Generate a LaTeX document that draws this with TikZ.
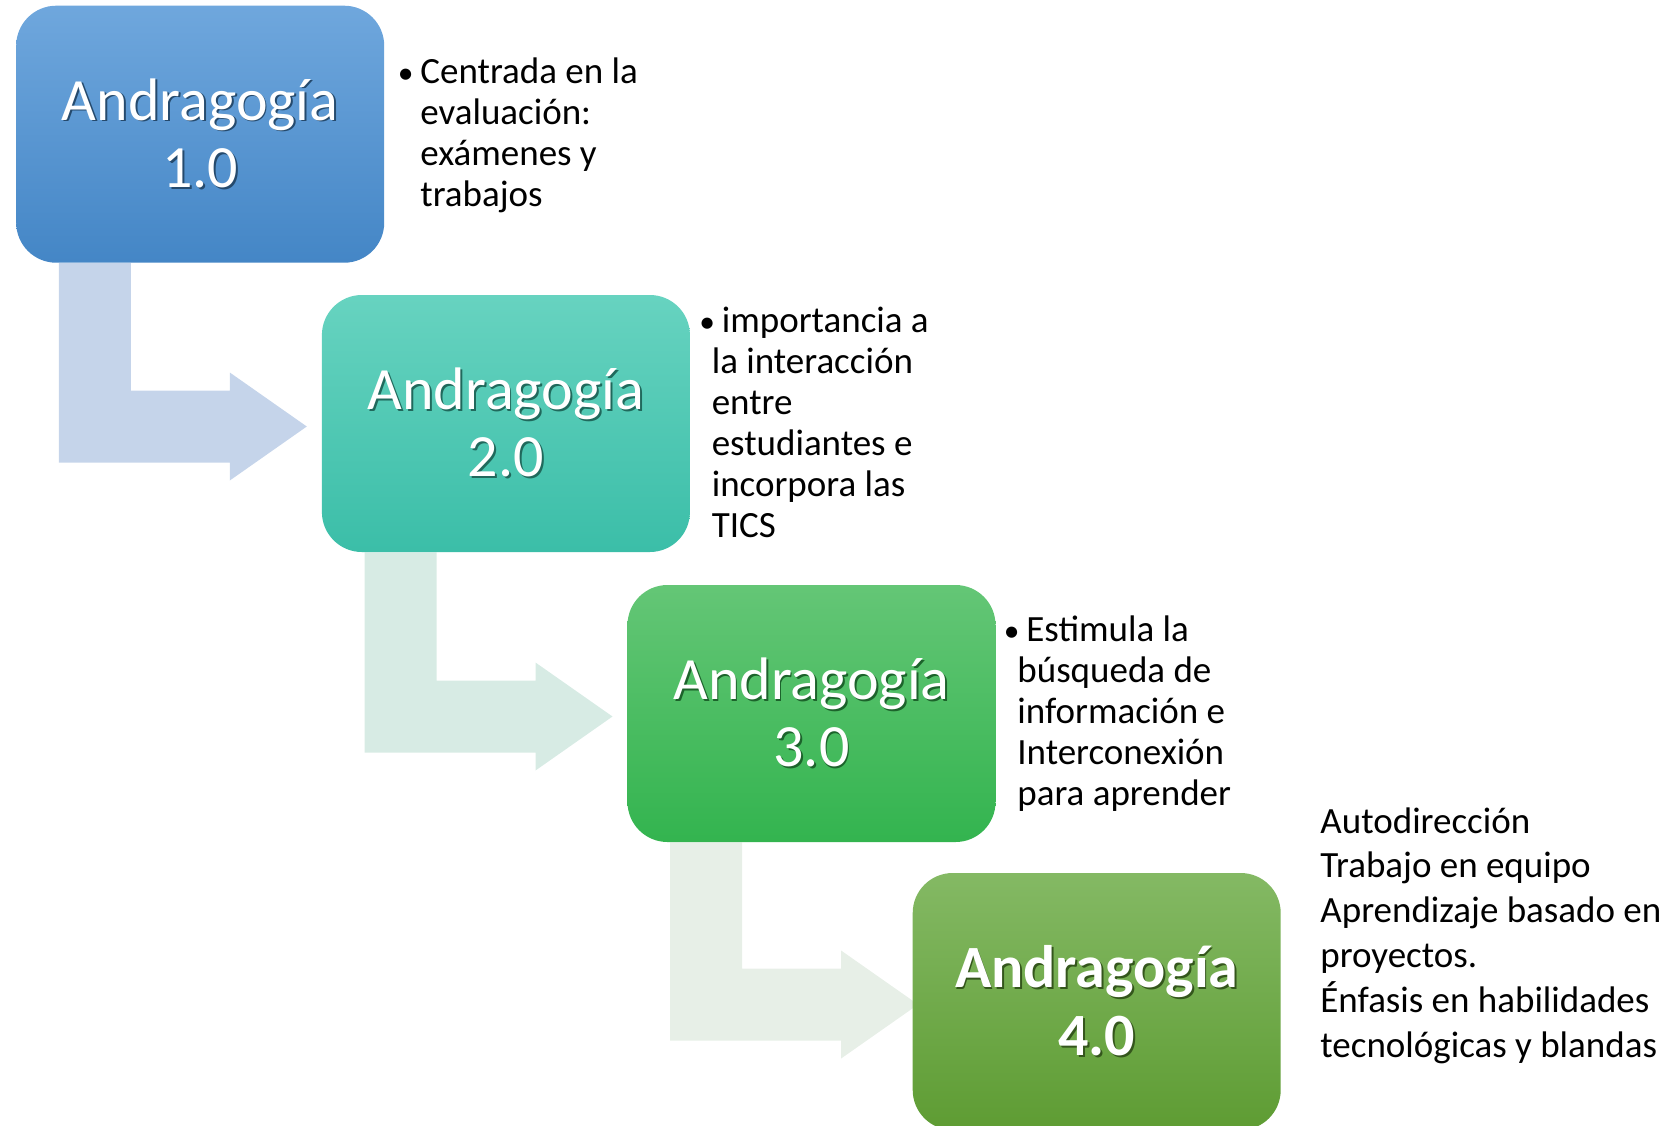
\documentclass[tikz,border=0pt]{standalone}
\usepackage{fontspec}
\setmainfont{Carlito}
\usepackage{xcolor}
\usepackage{graphicx}
\usetikzlibrary{calc,backgrounds}

\definecolor{blueTop}{HTML}{6FA7DD}
\definecolor{blueBot}{HTML}{4486C6}
\definecolor{tealTop}{HTML}{67D3C0}
\definecolor{tealBot}{HTML}{3BBEA8}
\definecolor{greenTop}{HTML}{64C676}
\definecolor{greenBot}{HTML}{33B44F}
\definecolor{oliveTop}{HTML}{84B964}
\definecolor{oliveBot}{HTML}{5E9C33}
\definecolor{arrowA}{HTML}{C5D4EA}
\definecolor{arrowB}{HTML}{D7EBE4}
\definecolor{arrowC}{HTML}{E7EFE7}

\newcommand{\shadowed}[2]{\rlap{\hspace{0.9pt}\raisebox{-0.9pt}{\color{#1}#2}}#2}
\newcommand{\bul}{\llap{\scalebox{0.85}{\textbullet}\hspace{3.4pt}}}
\newcommand{\bentarrow}[3]{%
  \fill[#3] ($(#1.south west)+(43,0)$) coordinate (s) -- ++(72,0)
    |- ($(#2.west -| #1.south west)+(214,-33)$) -- ++(0,-18)
    -- ($(#2.west -| #1.south west)+(291,3)$)
    -- ($(#2.west -| #1.south west)+(214,57)$) -- ++(0,-18)
    -| (s) -- cycle;}

\tikzset{
  stage/.style={rounded corners=20pt, minimum width=184pt, minimum height=128.5pt,
    inner sep=0pt, text=white, align=center, font=\fontsize{30}{33.75}\selectfont},
  note/.style={anchor=north west, inner sep=0pt, align=left,
    font=\fontsize{18.5}{20.55}\selectfont}
}

\begin{document}
\begin{tikzpicture}[x=0.5pt,y=-0.5pt]
    \useasboundingbox (0,0) rectangle (1680,1125);

    \node[stage, top color=blueTop, bottom color=blueBot] (b1) at (200.2,134.2)
        {\shadowed{blueBot!55!black}{Andragogía}\\\shadowed{blueBot!55!black}{1.0}};
    \node[stage, top color=tealTop, bottom color=tealBot] (b2) at (505.9,423.5)
        {\shadowed{tealBot!55!black}{Andragogía}\\\shadowed{tealBot!55!black}{2.0}};
    \node[stage, top color=greenTop, bottom color=greenBot] (b3) at (811.5,713.5)
        {\shadowed{greenBot!55!black}{Andragogía}\\\shadowed{greenBot!55!black}{3.0}};
    \node[stage, top color=oliveTop, bottom color=oliveBot,
        font=\fontsize{30}{33.75}\selectfont\bfseries] (b4) at (1096.7,1001.5)
        {\shadowed{oliveBot!55!black}{Andragogía}\\\shadowed{oliveBot!55!black}{4.0}};

    \begin{scope}[on background layer]
        \bentarrow{b1}{b2}{arrowA}
        \bentarrow{b2}{b3}{arrowB}
        \bentarrow{b3}{b4}{arrowC}
    \end{scope}

    % texts beside the stages
    \node[note] (n1) at (420,54.3)
        {\strut\bul Centrada en la\\evaluación:\\exámenes y\\trabajos};
    \node[note] (n2) at (711.4,303.2)
        {\strut\hspace*{5pt}\bul importancia a\\la interacción\\entre\\estudiantes e\\incorpora las\\TICS};
    \node[note] (n3) at (1017,612.2)
        {\strut\hspace*{4.5pt}\bul Estimula la\\búsqueda de\\información e\\Interconexión\\para aprender};
    \node[note, font=\fontsize{18.5}{22.4}\selectfont] (n4) at (1320,801.3)
        {\strut Autodirección\\Trabajo en equipo\\Aprendizaje basado en\\proyectos.\\Énfasis en habilidades\\tecnológicas y blandas};
\end{tikzpicture}
\end{document}
